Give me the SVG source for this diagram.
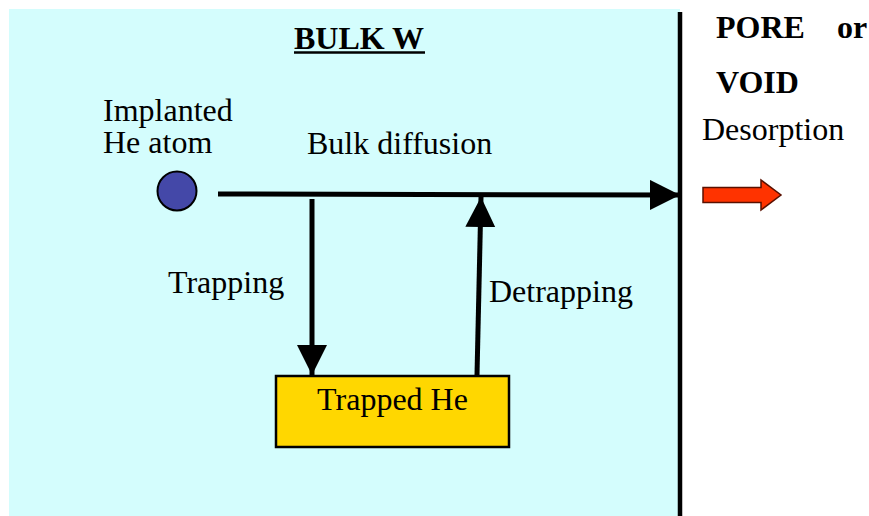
<svg xmlns="http://www.w3.org/2000/svg" width="869" height="516" viewBox="0 0 869 516">
  <style>
    .t { font-family: "Liberation Serif", "Times New Roman", serif; font-size: 32px; fill: #000; }
    .b { font-weight: bold; }
    .conn { stroke: #000; stroke-width: 5; fill: none; }
  </style>
  <defs>
    <marker id="head" markerUnits="userSpaceOnUse" markerWidth="32" markerHeight="32" refX="30" refY="15" orient="auto">
      <path d="M0,0 L30,15 L0,30 Z" fill="#000"/>
    </marker>
  </defs>

  <rect width="869" height="516" fill="#fff"/>

  <!-- bulk tungsten region -->
  <g id="bulk">
    <rect x="9" y="9" width="671" height="507" fill="#d4fdfd"/>
    <text class="t b" x="294" y="49">BULK W</text>
    <line x1="294" y1="52.5" x2="425" y2="52.5" stroke="#000" stroke-width="2.5"/>
  </g>

  <!-- surface boundary -->
  <g id="surface">
    <line x1="680" y1="12" x2="680" y2="516" stroke="#000" stroke-width="4.5"/>
  </g>

  <g id="pore">
    <text class="t b" x="716" y="38">PORE</text>
    <text class="t b" x="837" y="38">or</text>
    <text class="t b" x="716" y="93">VOID</text>
  </g>

  <g id="atom">
    <circle cx="177" cy="191" r="19.5" fill="#4448a8" stroke="#000" stroke-width="2"/>
    <text class="t" x="103" y="121">Implanted</text>
    <text class="t" x="103" y="153">He atom</text>
  </g>

  <g id="trapped">
    <rect x="276" y="376" width="233" height="71" fill="#ffd700" stroke="#000" stroke-width="2.5"/>
    <text class="t" x="392.5" y="410" text-anchor="middle">Trapped He</text>
  </g>

  <g id="desorption">
    <text class="t" x="702" y="140">Desorption</text>
    <path d="M703,187.5 L761,187.5 L761,180 L781,195 L761,210 L761,202.5 L703,202.5 Z" fill="#ff3300" stroke="#5a1000" stroke-width="1.5"/>
  </g>

  <g id="connectors">
    <line class="conn" x1="218" y1="194" x2="680" y2="195" marker-end="url(#head)"/>
    <line class="conn" x1="312" y1="199" x2="312" y2="375" marker-end="url(#head)"/>
    <line class="conn" x1="477" y1="375" x2="481" y2="197" marker-end="url(#head)"/>
    <text class="t" x="307" y="154">Bulk diffusion</text>
    <text class="t" x="168" y="293">Trapping</text>
    <text class="t" x="489" y="302">Detrapping</text>
  </g>
</svg>
